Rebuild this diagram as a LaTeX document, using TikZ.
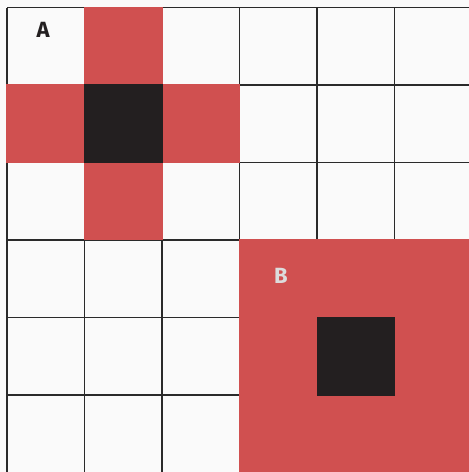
\documentclass[tikz,border=0pt]{standalone}
\usepackage{fontspec}
\setmainfont{Fira Sans}
\definecolor{bgc}{HTML}{FAFAFA}
\definecolor{redc}{HTML}{D05050}
\definecolor{blackc}{HTML}{231F20}
\definecolor{linec}{HTML}{2A2A2A}
\definecolor{lightc}{HTML}{DCDCDC}
\begin{document}
\begin{tikzpicture}[x=1pt,y=-1pt,
  gridline/.style={draw=linec,line width=1.2pt},
  redcell/.style={fill=redc},
  darkcell/.style={fill=blackc},
  lbl/.style={font=\fontsize{22}{22}\selectfont\bfseries,inner sep=0pt}]
\useasboundingbox (0,0) rectangle (469,472);
\fill[bgc] (0,0) rectangle (469,472);
% grid
\foreach \i in {0,...,6}{
  \draw[gridline] (7+77.5*\i,7.5) -- (7+77.5*\i,480);
  \draw[gridline] (7,7.5+77.5*\i) -- (480,7.5+77.5*\i);
}
% cross A
\fill[redc] (84.5-0.7,7.5-0.7) rectangle (162+0.7,85+0.7);
\fill[redc] (7-0.7,85-0.7) rectangle (84.5+0.7,162+0.7);
\fill[redc] (162-0.7,85-0.7) rectangle (239.5+0.7,162+0.7);
\fill[redc] (84.5-0.7,162-0.7) rectangle (162+0.7,239.5+0.7);
\fill[blackc] (84.5-0.7,85-0.7) rectangle (162+0.7,162+0.7);
% region B
\fill[redc] (239.5-0.7,239.5-0.7) rectangle (480,480);
\fill[blackc] (316.5,316.5) rectangle (395,395.5);
% labels
\node[lbl,text=blackc] (labelA) at (43,30) {A};
\node[lbl,text=lightc] (labelB) at (281,276) {B};
\end{tikzpicture}
\end{document}
